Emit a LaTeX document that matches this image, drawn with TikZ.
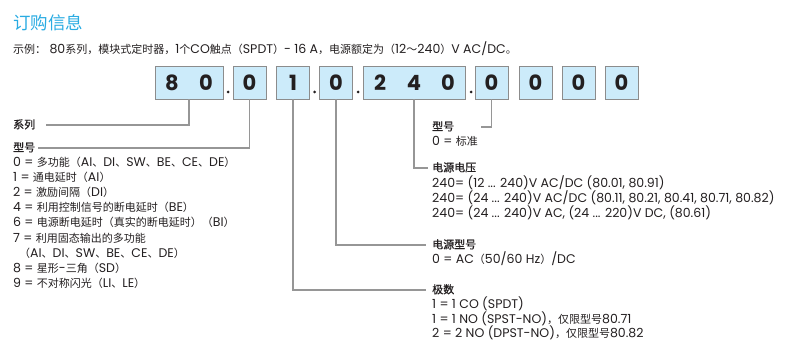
\documentclass[tikz,border=0pt]{standalone}
\usepackage{fontspec}
\setmainfont{Poppins}[Scale=1.14]
\newfontfamily\cjkfam{Noto Sans CJK SC}[BoldFont=Noto Sans CJK SC, BoldFeatures={FakeBold=1}]
\newfontfamily\cellfam{Poppins}
\usetikzlibrary{positioning}

% CJK characters switch to the CJK family, Latin ones back to Poppins
\XeTeXinterchartokenstate=1
\newXeTeXintercharclass\CJKglyphs
\newcount\cjkcode
\cjkcode="2E80
\loop \XeTeXcharclass\cjkcode=\CJKglyphs \advance\cjkcode by 1
  \ifnum\cjkcode<"A000 \repeat
\cjkcode="FF00
\loop \XeTeXcharclass\cjkcode=\CJKglyphs \advance\cjkcode by 1
  \ifnum\cjkcode<"FFF0 \repeat
\XeTeXinterchartoks 0 \CJKglyphs = {\cjkfam}
\XeTeXinterchartoks 4095 \CJKglyphs = {\cjkfam}
\XeTeXinterchartoks \CJKglyphs 0 = {\rmfamily}
\XeTeXinterchartoks \CJKglyphs 4095 = {\rmfamily}

\definecolor{OrdBlue}{RGB}{41,171,226}
\definecolor{OrdCell}{RGB}{204,235,250}
\definecolor{OrdFrame}{RGB}{140,140,140}
\definecolor{OrdLine}{RGB}{150,150,150}
\definecolor{OrdText}{RGB}{35,31,32}
\newcommand{\cellfig}[1]{\makebox[34pt]{#1}}

\tikzset{
  cell/.style={draw=OrdFrame, fill=OrdCell, line width=0.9pt, minimum width=33,
               minimum height=33, inner sep=0pt, text=OrdText,
               font=\cellfam\bfseries\fontsize{21}{21}\selectfont},
  sepdot/.style={circle, fill=OrdText, inner sep=0pt, minimum size=3},
  item/.style={anchor=west, inner sep=0pt, text=OrdText, text height=9pt,
               text depth=2pt, font=\fontsize{11}{13}\selectfont},
  head/.style={item, font=\fontsize{11}{13}\selectfont\bfseries},
  conn/.style={draw=OrdLine, line width=1.1pt}
}

\begin{document}
\begin{tikzpicture}[x=1pt, y=-1pt]
  \useasboundingbox (0,0) rectangle (799,358);

  % Heading and example
  \node[anchor=west, inner sep=0pt, text=OrdBlue,
        font=\fontsize{17.5}{18}\selectfont] (title) at (13,23) {订购信息};
  \node[item] (example) at (13,50)
        {示例： 80系列，模块式定时器，1个CO触点（SPDT）- 16 A，电源额定为（12～240）V AC/DC。};

  % Code cells
  \node[cell, minimum width=68] (b1) at (189,82.5) {\cellfig{8}\cellfig{0}};
  \node[sepdot] (p1) at (228,92) {};
  \node[cell] (b2) at (249.5,82.5) {0};
  \node[cell] (b3) at (293,82.5) {1};
  \node[sepdot] (p2) at (314.5,92) {};
  \node[cell] (b4) at (336,82.5) {0};
  \node[sepdot] (p3) at (358,92) {};
  \node[cell, minimum width=102] (b5) at (414,82.5) {\cellfig{2}\cellfig{4}\cellfig{0}};
  \node[sepdot] (p4) at (471,92) {};
  \node[cell] (b6) at (491.5,82.5) {0};
  \foreach \x [count=\i from 7] in {535.5,578.5,621.5}
    \node[cell] (b\i) at (\x,82.5) {0};

  % Left legend: series and type
  \node[head] (series) at (13,125) {系列};
  \node[head] (type) at (13,148) {型号};
  \foreach \t [count=\i from 0] in {
      {0 = 多功能（AI、DI、SW、BE、CE、DE）},
      {1 = 通电延时（AI）},
      {2 = 激励间隔（DI）},
      {4 = 利用控制信号的断电延时（BE）},
      {6 = 电源断电延时（真实的断电延时）（BI）},
      {7 = 利用固态输出的多功能},
      {\hspace*{6pt}（AI、DI、SW、BE、CE、DE）},
      {8 = 星形-三角（SD）},
      {9 = 不对称闪光（LI、LE）}}
    \node[item] (type\i) at (13,163+15.1*\i) {\t};

  % Right legend
  \node[head] (variant) at (432,127) {型号};
  \node[item] (variant0) at (432,142) {0 = 标准};

  \node[head] (voltage) at (432,168) {电源电压};
  \node[item] (voltage1) at (432,184) {240= (12 ... 240)V AC/DC (80.01, 80.91)};
  \node[item] (voltage2) at (432,199) {240= (24 ... 240)V AC/DC (80.11, 80.21, 80.41, 80.71, 80.82)};
  \node[item] (voltage3) at (432,214) {240= (24 ... 240)V AC, (24 ... 220)V DC, (80.61)};

  \node[head] (supply) at (432,245) {电源型号};
  \node[item] (supply0) at (432,260) {0 = AC（50/60 Hz）/DC};

  \node[head] (poles) at (432,290) {极数};
  \node[item] (poles1) at (432,305) {1 = 1 CO (SPDT)};
  \node[item] (poles2) at (432,319.5) {1 = 1 NO (SPST-NO)，仅限型号80.71};
  \node[item] (poles3) at (432,334) {2 = 2 NO (DPST-NO)，仅限型号80.82};

  % Connectors
  \draw[conn] (b1.south) |- ([xshift=11pt]series.east);
  \draw[conn] (b2.south) |- ([xshift=3pt]type.east);
  \draw[conn] (b3.south) |- ([xshift=-6pt]poles.west);
  \draw[conn] (b4.south) |- ([xshift=-6pt]supply.west);
  \draw[conn] (b5.south) |- ([xshift=-4pt]voltage.west);
  \draw[conn] (b6.south) |- ([xshift=27pt]variant.east);
\end{tikzpicture}
\end{document}
